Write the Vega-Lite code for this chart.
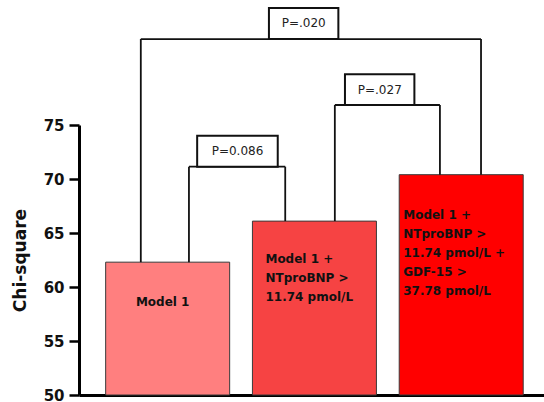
{
  "$schema": "https://vega.github.io/schema/vega-lite/v6.json",
  "autosize": {"type": "none"},
  "padding": {"left": 79, "top": 125, "right": 0, "bottom": 7},
  "width": 465,
  "height": 270,
  "background": "white",
  "config": {"view": {"stroke": null}},
  "datasets": {
    "bars": [
      {"model": "Model 1", "pos": 1, "chi": 62.3, "lines": ["Model 1"]},
      {"model": "Model 1 + NTproBNP", "pos": 2, "chi": 66.1, "lines": ["Model 1 +", "NTproBNP >", "11.74 pmol/L"]},
      {"model": "Model 1 + NTproBNP + GDF-15", "pos": 3, "chi": 70.4, "lines": ["Model 1 +", "NTproBNP >", "11.74 pmol/L +", "GDF-15 >", "37.78 pmol/L"]}
    ],
    "brackets": [
      {"p": "P=0.086", "legL": 1.145, "legR": 1.801, "botL": 62.3, "botR": 66.1, "level": 71.14, "boxL": 1.201, "boxR": 1.75, "boxTop": 74.01, "labelX": 1.476, "labelY": 72.58},
      {"p": "P=.027", "legL": 2.139, "legR": 2.855, "botL": 66.1, "botR": 70.4, "level": 76.85, "boxL": 2.208, "boxR": 2.681, "boxTop": 79.69, "labelX": 2.445, "labelY": 78.27},
      {"p": "P=.020", "legL": 0.817, "legR": 3.135, "botL": 62.3, "botR": 70.4, "level": 82.96, "boxL": 1.69, "boxR": 2.163, "boxTop": 85.83, "labelX": 1.927, "labelY": 84.4}
    ]
  },
  "encoding": {
    "x": {
      "type": "quantitative",
      "scale": {"domain": [0.43, 3.53], "nice": false, "zero": false},
      "axis": {"labels": false, "ticks": false, "grid": false, "title": null, "domainColor": "#000000", "domainWidth": 3}
    },
    "y": {
      "type": "quantitative",
      "scale": {"domain": [50, 75], "nice": false, "zero": false},
      "axis": {
        "title": "Chi-square",
        "titleFont": "DejaVu Sans",
        "titleFontSize": 17,
        "titleFontWeight": "bold",
        "titleColor": "#111111",
        "titlePadding": 14,
        "values": [50, 55, 60, 65, 70, 75],
        "labelFont": "DejaVu Sans",
        "labelFontSize": 15,
        "labelFontWeight": "bold",
        "labelColor": "#111111",
        "labelPadding": 5,
        "tickSize": 10,
        "tickWidth": 2.5,
        "tickColor": "#000000",
        "domainColor": "#000000",
        "domainWidth": 3,
        "grid": false
      }
    }
  },
  "layer": [
    {
      "data": {"name": "bars"},
      "mark": {"type": "bar", "size": 124, "stroke": "#3a3a3a", "strokeWidth": 1},
      "encoding": {
        "x": {"field": "pos"},
        "y": {"field": "chi", "title": "Chi-square"},
        "y2": {"datum": 50},
        "color": {
          "field": "model",
          "type": "nominal",
          "scale": {"domain": ["Model 1", "Model 1 + NTproBNP", "Model 1 + NTproBNP + GDF-15"], "range": ["#FF7F7F", "#F64343", "#FF0000"]},
          "legend": null
        }
      }
    },
    {
      "data": {"name": "bars"},
      "transform": [{"filter": "datum.pos == 1"}],
      "mark": {"type": "text", "align": "center", "baseline": "middle", "dx": -5, "dy": 40, "font": "DejaVu Sans", "fontSize": 12, "fontWeight": "bold", "color": "#111111", "lineHeight": 19},
      "encoding": {"x": {"field": "pos"}, "y": {"field": "chi"}, "text": {"field": "lines"}}
    },
    {
      "data": {"name": "bars"},
      "transform": [{"filter": "datum.pos == 2"}],
      "mark": {"type": "text", "align": "left", "baseline": "top", "dx": -49, "dy": 33, "font": "DejaVu Sans", "fontSize": 12, "fontWeight": "bold", "color": "#111111", "lineHeight": 19},
      "encoding": {"x": {"field": "pos"}, "y": {"field": "chi"}, "text": {"field": "lines"}}
    },
    {
      "data": {"name": "bars"},
      "transform": [{"filter": "datum.pos == 3"}],
      "mark": {"type": "text", "align": "left", "baseline": "top", "dx": -58, "dy": 35, "font": "DejaVu Sans", "fontSize": 12, "fontWeight": "bold", "color": "#111111", "lineHeight": 19},
      "encoding": {"x": {"field": "pos"}, "y": {"field": "chi"}, "text": {"field": "lines"}}
    },
    {
      "data": {"name": "brackets"},
      "mark": {"type": "rule", "color": "#111111", "strokeWidth": 1.8},
      "encoding": {"x": {"field": "legL"}, "x2": {"field": "legR"}, "y": {"field": "level"}}
    },
    {
      "data": {"name": "brackets"},
      "mark": {"type": "rule", "color": "#111111", "strokeWidth": 1.8},
      "encoding": {"x": {"field": "legL"}, "y": {"field": "botL"}, "y2": {"field": "level"}}
    },
    {
      "data": {"name": "brackets"},
      "mark": {"type": "rule", "color": "#111111", "strokeWidth": 1.8},
      "encoding": {"x": {"field": "legR"}, "y": {"field": "botR"}, "y2": {"field": "level"}}
    },
    {
      "data": {"name": "brackets"},
      "mark": {"type": "rect", "fill": "white", "stroke": "#111111", "strokeWidth": 2},
      "encoding": {"x": {"field": "boxL"}, "x2": {"field": "boxR"}, "y": {"field": "level"}, "y2": {"field": "boxTop"}}
    },
    {
      "data": {"name": "brackets"},
      "mark": {"type": "text", "align": "center", "baseline": "middle", "font": "DejaVu Sans", "fontSize": 12, "color": "#222222"},
      "encoding": {"x": {"field": "labelX"}, "y": {"field": "labelY"}, "text": {"field": "p"}}
    }
  ]
}
